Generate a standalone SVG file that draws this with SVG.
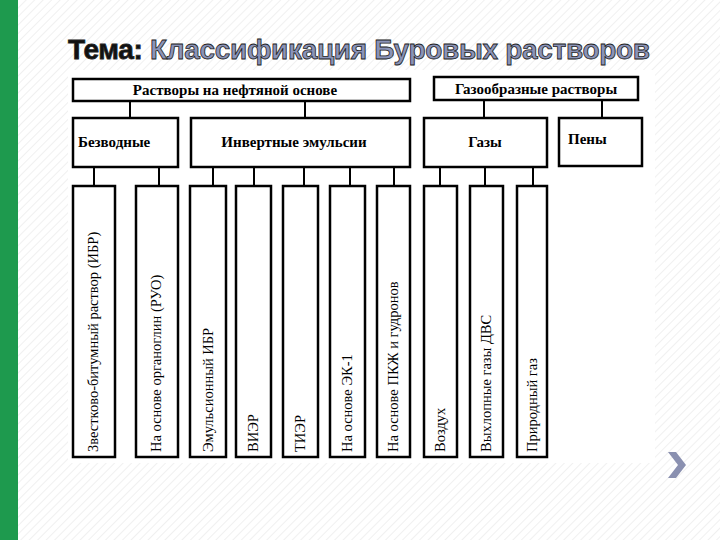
<svg xmlns="http://www.w3.org/2000/svg" width="720" height="540" viewBox="0 0 720 540">
<defs>
<pattern id="hatch" width="6" height="6" patternUnits="userSpaceOnUse" patternTransform="rotate(45)">
<rect width="6" height="6" fill="#ffffff"/><line x1="0" y1="0" x2="0" y2="6" stroke="#ececec" stroke-width="1.5"/>
</pattern>
<style>
.b{fill:#fff;stroke:#000;stroke-width:2.5}
.c line{stroke:#000;stroke-width:2}
.h{font-family:"Liberation Serif",serif;font-weight:bold;font-size:15px;fill:#000}
.v{font-family:"Liberation Serif",serif;font-size:14.5px;fill:#000}
</style>
</defs>
<rect width="720" height="540" fill="url(#hatch)"/>
<rect x="0" y="0" width="18" height="540" fill="#1e9a4e"/>
<rect x="68" y="70" width="587" height="393" fill="#fff"/>
<text x="68" y="59" font-family="Liberation Sans,sans-serif" font-weight="bold" font-size="28" stroke="#222" stroke-width="0.8" textLength="582"><tspan fill="#111">Тема: </tspan><tspan fill="#8a93b8">Классификация Буровых растворов</tspan></text>
<path d="M668 452 L676 452 L686 465 L676 478 L668 478 L678 465 Z" fill="#8a90b0"/>
<g class="c">
<line x1="130" y1="101" x2="130" y2="118"/><line x1="305" y1="101" x2="305" y2="118"/>
<line x1="484" y1="100" x2="484" y2="118"/><line x1="602" y1="100" x2="602" y2="118"/>
<line x1="94" y1="167" x2="94" y2="186"/><line x1="159" y1="167" x2="159" y2="186"/>
<line x1="213" y1="167" x2="213" y2="186"/><line x1="254" y1="167" x2="254" y2="186"/>
<line x1="304" y1="167" x2="304" y2="186"/><line x1="350" y1="167" x2="350" y2="186"/>
<line x1="394" y1="167" x2="394" y2="186"/><line x1="440" y1="167" x2="440" y2="186"/>
<line x1="485" y1="167" x2="485" y2="186"/><line x1="533" y1="167" x2="533" y2="186"/>
</g>
<g id="n-oil"><rect class="b" x="73" y="79" width="337" height="22"/><text class="h" x="235" y="95" text-anchor="middle">Растворы на нефтяной основе</text></g>
<g id="n-gasr"><rect class="b" x="434" y="77" width="204" height="23"/><text class="h" x="536" y="94" text-anchor="middle">Газообразные растворы</text></g>
<g id="n-bez"><rect class="b" x="73" y="118" width="105" height="49"/><text class="h" x="78" y="147">Безводные</text></g>
<g id="n-inv"><rect class="b" x="191" y="118" width="219" height="49"/><text class="h" x="294" y="147" text-anchor="middle">Инвертные эмульсии</text></g>
<g id="n-gaz"><rect class="b" x="424" y="118" width="123" height="49"/><text class="h" x="485" y="147" text-anchor="middle">Газы</text></g>
<g id="n-pen"><rect class="b" x="559" y="118" width="83" height="48"/><text class="h" x="568" y="144">Пены</text></g>
<g id="l1"><rect class="b" x="73" y="186" width="42" height="271"/><text class="v" transform="translate(98 452) rotate(-90)">Звестково-битумный раствор (ИБР)</text></g>
<g id="l2"><rect class="b" x="136" y="186" width="42" height="271"/><text class="v" transform="translate(161 452) rotate(-90)">На основе органоглин (РУО)</text></g>
<g id="l3"><rect class="b" x="190" y="186" width="36" height="271"/><text class="v" transform="translate(213 452) rotate(-90)">Эмульсионный ИБР</text></g>
<g id="l4"><rect class="b" x="236" y="186" width="35" height="271"/><text class="v" transform="translate(258 452) rotate(-90)">ВИЭР</text></g>
<g id="l5"><rect class="b" x="283" y="186" width="35" height="271"/><text class="v" transform="translate(305 452) rotate(-90)">ТИЭР</text></g>
<g id="l6"><rect class="b" x="330" y="186" width="35" height="271"/><text class="v" transform="translate(352 452) rotate(-90)">На основе ЭК-1</text></g>
<g id="l7"><rect class="b" x="377" y="186" width="33" height="271"/><text class="v" transform="translate(398 452) rotate(-90)">На основе ПКЖ и гудронов</text></g>
<g id="l8"><rect class="b" x="424" y="186" width="33" height="271"/><text class="v" transform="translate(445 452) rotate(-90)">Воздух</text></g>
<g id="l9"><rect class="b" x="470" y="186" width="33" height="271"/><text class="v" transform="translate(491 452) rotate(-90)">Выхлопные газы ДВС</text></g>
<g id="l10"><rect class="b" x="517" y="186" width="30" height="271"/><text class="v" transform="translate(537 452) rotate(-90)">Природный газ</text></g>
</svg>
